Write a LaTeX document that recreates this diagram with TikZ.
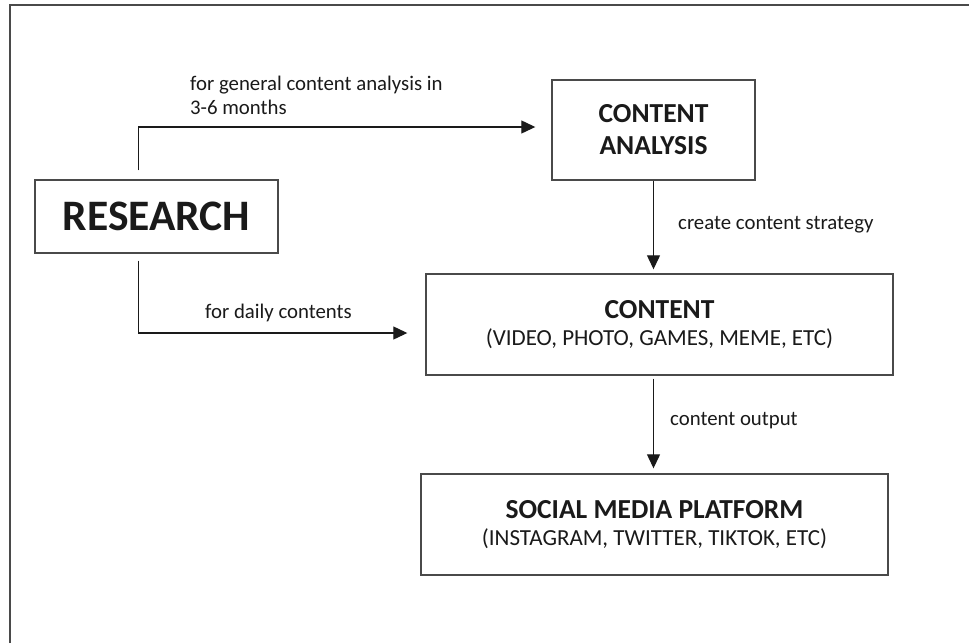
\documentclass[tikz,border=0pt]{standalone}
\usepackage{fontspec}
\setmainfont{Carlito}
\usetikzlibrary{arrows.meta}
\definecolor{edgegray}{HTML}{4A4A4A}
\definecolor{inkdark}{HTML}{1A1A1A}
\tikzset{
  box/.style={draw=edgegray, line width=1.4pt, inner sep=0pt, align=center,
    text=inkdark, font=\fontsize{23}{27}\selectfont},
  conn/.style={draw=inkdark, line width=1.2pt,
    -{Triangle[length=14pt,width=13pt]}},
  lbl/.style={anchor=west, inner sep=0pt, align=left, text=inkdark,
    font=\fontsize{20.8}{24}\selectfont},
  frameline/.style={draw=edgegray, line width=2.2pt}
}
\newcommand{\ttl}[1]{{\bfseries\fontsize{27.5}{27}\selectfont #1}}
\begin{document}
\begin{tikzpicture}[x=1pt,y=-1pt]
  \useasboundingbox (0,0) rectangle (969,643);
  \fill[white] (0,0) rectangle (969,643);
  % page frame (left and top edges)
  \draw[frameline] (10,643) -- (10,5) -- (969,5);

  % boxes
  \node[box, minimum width=243pt, minimum height=73pt] (research) at (156.5,216.5)
    {\bfseries\fontsize{43.5}{43.5}\selectfont RESEARCH};
  \node[box, minimum width=203pt, minimum height=100pt,
        font=\bfseries\fontsize{27.5}{32}\selectfont] (analysis) at (653.5,130)
    {CONTENT\\ANALYSIS};
  \node[box, minimum width=467pt, minimum height=101pt] (content) at (659.5,324.5)
    {\ttl{CONTENT}\\(VIDEO, PHOTO, GAMES, MEME, ETC)};
  \node[box, minimum width=467pt, minimum height=101pt] (social) at (654.5,524.5)
    {\ttl{SOCIAL MEDIA PLATFORM}\\(INSTAGRAM, TWITTER, TIKTOK, ETC)};

  % connectors
  \draw[conn, shorten >=16pt]
    ([shift={(104,-9)}]research.north west) |- ([yshift=3pt]analysis.west);
  \draw[conn, shorten >=18pt]
    ([shift={(104,7)}]research.south west) |- ([yshift=-8.5pt]content.west);
  \draw[conn, shorten >=4pt]
    (analysis.south) -- (analysis.south |- content.north);
  \draw[conn, shorten <=3pt, shorten >=5pt]
    (content.south -| analysis.south) -- (social.north -| analysis.south);

  % connector labels
  \node[lbl] (lgeneral) at (190,95) {for general content analysis in\\3-6 months};
  \node[lbl] (ldaily) at (205,313) {for daily contents};
  \node[lbl] (lstrategy) at (678,225) {create content strategy};
  \node[lbl] (loutput) at (670,421) {content output};
\end{tikzpicture}
\end{document}
